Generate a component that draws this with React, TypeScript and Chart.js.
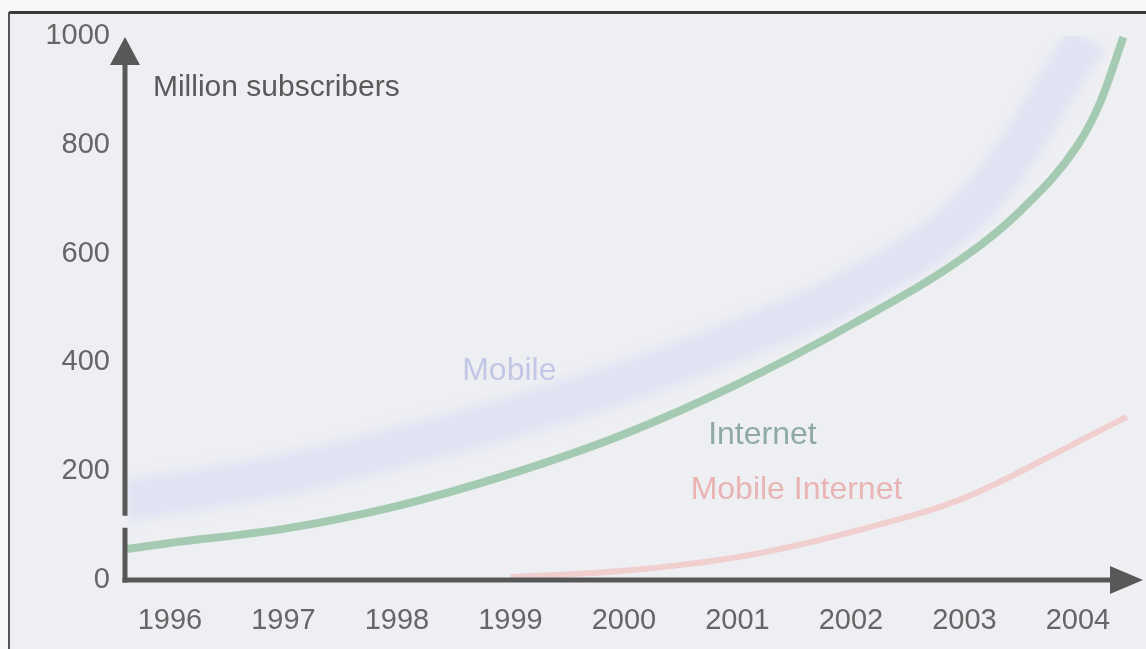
import { useEffect, useRef } from "react";
import { Chart, registerables } from "chart.js";

Chart.register(...registerables);

// ---- data ----
const yearTicks = [1996, 1997, 1998, 1999, 2000, 2001, 2002, 2003, 2004];
const valueTicks = [0, 200, 400, 600, 800, 1000];

const mobileYears = [1995.62, 1996, 1997, 1998, 1999, 2000, 2001, 2002, 2003, 2003.5, 2003.72, 2004.08];
const mobileValues = [147, 158, 193, 243, 298, 364, 441, 533, 671, 800, 877, 996];

const internetYears = [1995.62, 1996, 1997, 1998, 1999, 2000, 2001, 2002, 2003, 2003.5, 2004, 2004.2, 2004.4];
const internetValues = [57, 68, 94, 136, 195, 268, 360, 469, 594, 680, 800, 880, 998];

const mobileInternetYears = [1999, 2000, 2001, 2002, 2003, 2004, 2004.43];
const mobileInternetValues = [5, 17, 42, 88, 151, 254, 300];

const seriesNames = ["Mobile", "Internet", "Mobile Internet"];
const seriesColors = ["#e1e3f3", "#a4cbb2", "#f1cfcf"];
const seriesWidths = [42, 8, 6];
const labelColors = ["#c3c7e6", "#8fa9a3", "#e8b4b4"];
const labelYears = [1998.99, 2001.22, 2001.52];
const labelValues = [384, 267, 165];

const axisTitle = "Million subscribers";
const axisTitleYear = 1995.85;
const axisTitleValue = 904;

// small break in the vertical axis line, as in the original
const axisGapFrom = 96;
const axisGapTo = 118;

const X_MIN = 1995.604;
const X_MAX = 2004.573;
const FONT = "'Liberation Sans', Arial, Helvetica, sans-serif";

const toPoints = (xs: number[], ys: number[]) => xs.map((x, i) => ({ x, y: ys[i] }));

const decorPlugin = {
  id: "decor",
  beforeDraw(chart: any) {
    const { ctx, width, height } = chart;
    ctx.save();
    ctx.fillStyle = "#f8f8f8";
    ctx.fillRect(0, 0, width, height);
    ctx.fillStyle = "#eeeff3";
    ctx.fillRect(10, 13, width - 10, height - 13);
    // frame
    ctx.strokeStyle = "#3a3a3a";
    ctx.lineWidth = 3;
    ctx.beginPath();
    ctx.moveTo(9, 12.5);
    ctx.lineTo(width, 12.5);
    ctx.stroke();
    ctx.strokeStyle = "#555";
    ctx.lineWidth = 2;
    ctx.beginPath();
    ctx.moveTo(9, 12);
    ctx.lineTo(9, height);
    ctx.stroke();
    ctx.restore();
  },
  beforeDatasetDraw(chart: any, args: any) {
    if (args.index === 0) {
      chart.ctx.save();
      chart.ctx.filter = "blur(5px)";
    }
  },
  afterDatasetDraw(chart: any, args: any) {
    if (args.index === 0) {
      chart.ctx.restore();
    }
  },
  afterDatasetsDraw(chart: any) {
    const { ctx, chartArea } = chart;
    const xs = chart.scales.x;
    const ys = chart.scales.y;
    const x0 = xs.getPixelForValue(X_MIN);
    const y0 = ys.getPixelForValue(0);
    const yTop = ys.getPixelForValue(1000);
    const gapLow = ys.getPixelForValue(axisGapFrom);
    const gapHigh = ys.getPixelForValue(axisGapTo);
    ctx.save();
    ctx.strokeStyle = "#585858";
    ctx.fillStyle = "#585858";
    ctx.lineWidth = 5;
    // y axis (with a small break)
    ctx.beginPath();
    ctx.moveTo(x0, y0 + 2.5);
    ctx.lineTo(x0, gapLow);
    ctx.moveTo(x0, gapHigh);
    ctx.lineTo(x0, yTop + 20);
    ctx.stroke();
    ctx.beginPath();
    ctx.moveTo(x0, yTop + 1);
    ctx.lineTo(x0 - 15, yTop + 29);
    ctx.lineTo(x0 + 15, yTop + 29);
    ctx.closePath();
    ctx.fill();
    // x axis
    const xRight = chartArea.right;
    ctx.beginPath();
    ctx.moveTo(x0 - 2.5, y0);
    ctx.lineTo(xRight - 20, y0);
    ctx.stroke();
    ctx.beginPath();
    ctx.moveTo(xRight, y0);
    ctx.lineTo(xRight - 33, y0 - 14);
    ctx.lineTo(xRight - 33, y0 + 14);
    ctx.closePath();
    ctx.fill();

    // axis title
    ctx.font = `30px ${FONT}`;
    ctx.fillStyle = "#5a5a5a";
    ctx.textAlign = "left";
    ctx.textBaseline = "middle";
    ctx.fillText(axisTitle, xs.getPixelForValue(axisTitleYear), ys.getPixelForValue(axisTitleValue));

    // series labels
    ctx.font = `32px ${FONT}`;
    ctx.textAlign = "center";
    seriesNames.forEach((name, i) => {
      ctx.fillStyle = labelColors[i];
      ctx.fillText(name, xs.getPixelForValue(labelYears[i]), ys.getPixelForValue(labelValues[i]));
    });
    ctx.restore();
  },
};

export default function App() {
  const ref = useRef<HTMLCanvasElement>(null);
  useEffect(() => {
    if (!ref.current) return;
    const xsData = [mobileYears, internetYears, mobileInternetYears];
    const ysData = [mobileValues, internetValues, mobileInternetValues];
    const chart = new Chart(ref.current, {
      type: "line",
      data: {
        datasets: seriesNames.map((name, i) => ({
          label: name,
          data: toPoints(xsData[i], ysData[i]),
          borderColor: seriesColors[i],
          backgroundColor: seriesColors[i],
          borderWidth: seriesWidths[i],
          pointRadius: 0,
          fill: false,
          cubicInterpolationMode: "monotone" as const,
          borderCapStyle: "butt" as const,
          order: 3 - i,
        })),
      },
      options: {
        animation: false,
        responsive: false,
        devicePixelRatio: 1,
        layout: { padding: { top: 36, right: 3, left: 0, bottom: 0 } },
        plugins: { legend: { display: false }, tooltip: { enabled: false } },
        scales: {
          x: {
            type: "linear",
            min: X_MIN,
            max: X_MAX,
            grid: { display: false, drawTicks: false },
            border: { display: false },
            afterBuildTicks: (s: any) => {
              s.ticks = yearTicks.map((v) => ({ value: v }));
            },
            afterFit: (s: any) => {
              s.height = 69;
            },
            ticks: {
              autoSkip: false,
              maxRotation: 0,
              padding: 24,
              color: "#666666",
              font: { family: FONT, size: 29 },
              callback: (v: any) => String(v),
            },
          },
          y: {
            type: "linear",
            min: 0,
            max: 1000,
            grid: { display: false, drawTicks: false },
            border: { display: false },
            afterBuildTicks: (s: any) => {
              s.ticks = valueTicks.map((v) => ({ value: v }));
            },
            afterFit: (s: any) => {
              s.width = 125;
            },
            ticks: {
              padding: 15,
              color: "#666666",
              font: { family: FONT, size: 29 },
              callback: (v: any) => String(v),
            },
          },
        },
      },
      plugins: [decorPlugin],
    });
    return () => chart.destroy();
  }, []);
  return (
    <div style={{ position: "absolute", left: 0, top: 0, width: 1146, height: 649 }}>
      <canvas ref={ref} width={1146} height={649} style={{ display: "block" }} />
    </div>
  );
}
